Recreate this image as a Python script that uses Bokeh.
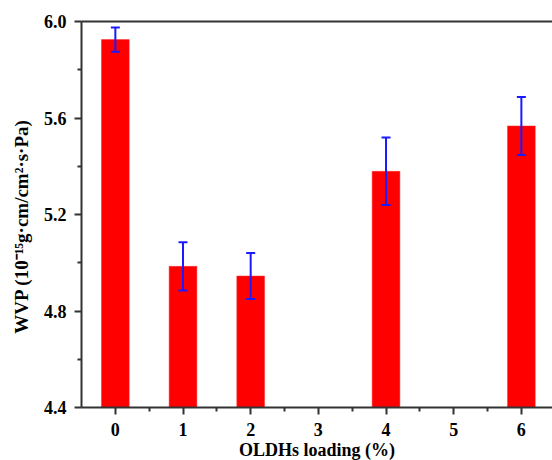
from bokeh.plotting import figure
from bokeh.models import (ColumnDataSource, Whisker, TeeHead, FixedTicker, LinearAxis,
                          Range1d, CustomJSTickFormatter)
from bokeh.embed import file_html
from bokeh.resources import INLINE

loading = [0, 1, 2, 4, 6]
wvp = [5.925, 4.985, 4.945, 5.379, 5.567]
err = [0.050, 0.100, 0.095, 0.140, 0.120]
x_ticks = [0, 1, 2, 3, 4, 5, 6]
x_minor = [0.5, 1.5, 2.5, 3.5, 4.5, 5.5]
y_ticks = [4.4, 4.8, 5.2, 5.6, 6.0]
y_minor = [4.6, 5.0, 5.4, 5.8]

upper = [v + e for v, e in zip(wvp, err)]
lower = [v - e for v, e in zip(wvp, err)]
src = ColumnDataSource(dict(x=loading, top=wvp, upper=upper, lower=lower))

FONT = "Liberation Serif"

p = figure(width=552, height=466, output_backend="svg", toolbar_location=None,
           x_range=Range1d(-0.5, 6.46), y_range=Range1d(4.4, 6.0),
           min_border_left=81, min_border_right=0, min_border_top=21, min_border_bottom=59)
p.outline_line_color = None
p.grid.visible = False
p.background_fill_color = "white"

p.vbar(x="x", top="top", bottom=4.4, width=0.41, source=src,
       fill_color="#ff0000", line_color="#ff3030", line_width=0.5)

tee_u = TeeHead(size=9, line_color="#1a1aff", line_width=2)
tee_l = TeeHead(size=9, line_color="#1a1aff", line_width=2)
w = Whisker(base="x", upper="upper", lower="lower", source=src, level="overlay",
            line_color="#1a1aff", line_width=2, upper_head=tee_u, lower_head=tee_l)
p.add_layout(w)

for ax in (p.xaxis[0], p.yaxis[0]):
    ax.axis_line_width = 2
    ax.axis_line_color = "#333333"
    ax.major_tick_line_color = "#333333"
    ax.minor_tick_line_color = "#333333"
    ax.major_tick_line_width = 2
    ax.minor_tick_line_width = 2
    ax.major_tick_in = 0
    ax.major_tick_out = 7
    ax.minor_tick_in = 0
    ax.minor_tick_out = 4
    ax.major_label_text_font = FONT
    ax.major_label_text_font_style = "bold"
    ax.major_label_text_font_size = "18px"
    ax.major_label_text_color = "black"
    ax.axis_label_text_font = FONT
    ax.axis_label_text_font_style = "bold"
    ax.axis_label_text_font_size = "18px"
    ax.axis_label_text_color = "black"

p.xaxis[0].ticker = FixedTicker(ticks=x_ticks, minor_ticks=x_minor)
p.yaxis[0].ticker = FixedTicker(ticks=y_ticks, minor_ticks=y_minor)
p.yaxis[0].formatter = CustomJSTickFormatter(code="return tick.toFixed(1);")
p.xaxis[0].axis_label = "OLDHs loading (%)"
p.yaxis[0].axis_label = "WVP (10\u207b\u00b9\u2075g\u00b7cm/cm\u00b2\u00b7s\u00b7Pa)" + "\u00a0" * 5
p.yaxis[0].axis_label_text_font_size = "19px"
p.xaxis[0].major_label_standoff = 8
p.xaxis[0].axis_label_standoff = 1
p.yaxis[0].major_label_standoff = 8
p.yaxis[0].axis_label_standoff = 9

top = LinearAxis(axis_line_width=2, axis_line_color="#333333",
                 major_tick_line_color=None, minor_tick_line_color=None,
                 major_label_text_font_size="0px", major_label_standoff=0)
top.ticker = FixedTicker(ticks=[])
p.add_layout(top, "above")

open("out.html", "w").write(file_html(p, INLINE))
